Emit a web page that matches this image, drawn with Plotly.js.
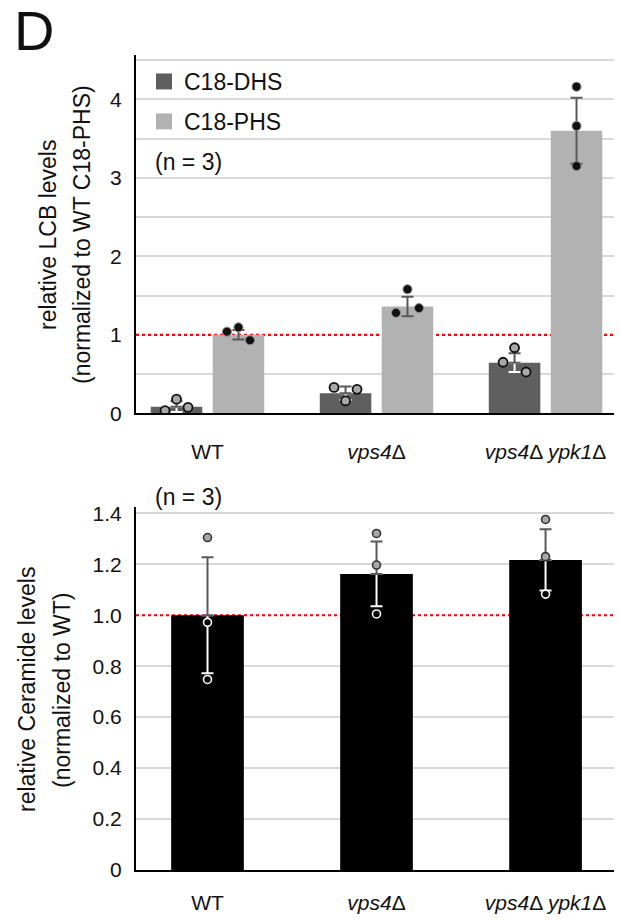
<!DOCTYPE html>
<html>
<head>
<meta charset="utf-8">
<script src="https://cdn.plot.ly/plotly-3.0.1.min.js"></script>
<style>html,body{margin:0;padding:0;background:#fff;}#chart{width:620px;height:920px;}</style>
</head>
<body>
<div id="chart"></div>
<script>
// ---------- data ----------
const categories = ['WT', 'vps4Δ', 'vps4Δ ypk1Δ'];
const tickLabels = ['WT', '<i>vps4</i>Δ', '<i>vps4</i>Δ <i>ypk1</i>Δ'];

const dhsMean = [0.085, 0.255, 0.645];
const dhsSD   = [0.07, 0.085, 0.12];
const dhsReps = [[0.033, 0.18, 0.076], [0.33, 0.157, 0.305], [0.65, 0.835, 0.526]];

const phsMean = [1.0, 1.36, 3.6];
const phsSD   = [0.06, 0.125, 0.42];
const phsReps = [[1.04, 1.095, 0.93], [1.28, 1.58, 1.34], [4.16, 3.66, 3.15]];

const cerMean = [1.0, 1.162, 1.217];
const cerSD   = [0.228, 0.127, 0.12];
const cerReps = [[1.305, 0.972, 0.748], [1.321, 1.197, 1.005], [1.376, 1.23, 1.083]];

const lcbTickVals = [0, 1, 2, 3, 4];
const lcbGridVals = [0.5, 1, 1.5, 2, 2.5, 3, 3.5, 4, 4.5];
const cerTickVals = [0, 0.2, 0.4, 0.6, 0.8, 1.0, 1.2, 1.4];
const cerTickText = ['0', '0.2', '0.4', '0.6', '0.8', '1.0', '1.2', '1.4'];
const refLevel = 1;

// ---------- geometry / style ----------
const W = 620, H = 920;
const FONT = 'Liberation Sans, Arial, sans-serif';
const xDom = [136 / W, 614 / W];
const xRange = [-0.423, 2.405];
const topDom = [1 - 413.3 / H, 1 - 55 / H];
const botDom = [1 - 870 / H, 1 - 506.7 / H];
const topRange = [0, 4.564];
const botRange = [0, 1.426];
const bargap = 0.267, bargroupgap = 0.168;
const slot = (1 - bargap) / 2;
const DARK = '#5f5f5f', LIGHT = '#b2b2b2', ERR = '#595959', GRID = '#d9d9d9';
const idx = categories.map((_, i) => i);

const pxPerUnit = (dom, rng) => (dom[1] - dom[0]) * H / (rng[1] - rng[0]);
const pxPerX = (xDom[1] - xDom[0]) * W / (xRange[1] - xRange[0]);
const spreadPx = 11.5;

function pointXs(reps, center, ppu) {
  const xs = [];
  reps.forEach((vals, i) => {
    let minGap = Infinity;
    for (let a = 0; a < vals.length; a++)
      for (let b = a + 1; b < vals.length; b++)
        minGap = Math.min(minGap, Math.abs(vals[a] - vals[b]) * ppu);
    const spread = minGap < 16;
    vals.forEach((v, k) => {
      xs.push(i + center + (spread ? (k - (vals.length - 1) / 2) * spreadPx / pxPerX : 0));
    });
  });
  return xs;
}
const flat = a => a.reduce((s, r) => s.concat(r), []);
// grid lines everywhere except where the red reference line runs
const gridExceptRef = vals => vals.filter(v => v > 0 && Math.abs(v - refLevel) > 1e-9);

const topPPU = pxPerUnit(topDom, topRange);
const botPPU = pxPerUnit(botDom, botRange);

const zeros = idx.map(() => 0);
const traces = [];

// top bars
traces.push({type: 'bar', x: idx, y: dhsMean, name: 'C18-DHS', marker: {color: DARK},
  offsetgroup: 'a', xaxis: 'x', yaxis: 'y', showlegend: false, hoverinfo: 'skip'});
traces.push({type: 'bar', x: idx, y: phsMean, name: 'C18-PHS', marker: {color: LIGHT},
  offsetgroup: 'b', xaxis: 'x', yaxis: 'y', showlegend: false, hoverinfo: 'skip'});

// top error bars
const dhsX = idx.map(i => i - slot / 2), phsX = idx.map(i => i + slot / 2);
traces.push({type: 'scatter', mode: 'markers', x: dhsX, y: dhsMean, marker: {size: 1, opacity: 0},
  error_y: {type: 'data', symmetric: false, array: zeros, arrayminus: dhsSD, color: '#ffffff', thickness: 2, width: 6},
  xaxis: 'x', yaxis: 'y', showlegend: false, hoverinfo: 'skip'});
traces.push({type: 'scatter', mode: 'markers', x: dhsX, y: dhsMean, marker: {size: 1, opacity: 0},
  error_y: {type: 'data', symmetric: false, array: dhsSD, arrayminus: zeros, color: ERR, thickness: 2, width: 6},
  xaxis: 'x', yaxis: 'y', showlegend: false, hoverinfo: 'skip'});
traces.push({type: 'scatter', mode: 'markers', x: phsX, y: phsMean, marker: {size: 1, opacity: 0},
  error_y: {type: 'data', array: phsSD, color: ERR, thickness: 2, width: 6},
  xaxis: 'x', yaxis: 'y', showlegend: false, hoverinfo: 'skip'});

// top points
traces.push({type: 'scatter', mode: 'markers', x: pointXs(dhsReps, -slot / 2, topPPU), y: flat(dhsReps),
  marker: {size: 9, color: '#a8a8a8', line: {color: '#111', width: 1.8}},
  xaxis: 'x', yaxis: 'y', showlegend: false, hoverinfo: 'skip'});
traces.push({type: 'scatter', mode: 'markers', x: pointXs(phsReps, slot / 2, topPPU), y: flat(phsReps),
  marker: {size: 9, color: '#111', line: {color: '#888', width: 1}},
  xaxis: 'x', yaxis: 'y', showlegend: false, hoverinfo: 'skip'});

// legend entries
traces.push({type: 'scatter', mode: 'markers', x: [null], y: [null], name: 'C18-DHS', legendgroup: 'g1',
  marker: {symbol: 'square', size: 16, color: DARK}, xaxis: 'x', yaxis: 'y'});
traces.push({type: 'scatter', mode: 'markers', x: [null], y: [null], name: 'C18-PHS', legendgroup: 'g2',
  marker: {symbol: 'square', size: 16, color: LIGHT}, xaxis: 'x', yaxis: 'y'});

// bottom bars
traces.push({type: 'bar', x: idx, y: cerMean, width: 0.43, marker: {color: '#000'},
  xaxis: 'x2', yaxis: 'y2', showlegend: false, hoverinfo: 'skip'});
traces.push({type: 'scatter', mode: 'markers', x: idx, y: cerMean, marker: {size: 1, opacity: 0},
  error_y: {type: 'data', symmetric: false, array: zeros, arrayminus: cerSD, color: '#ffffff', thickness: 2, width: 6},
  xaxis: 'x2', yaxis: 'y2', showlegend: false, hoverinfo: 'skip'});
traces.push({type: 'scatter', mode: 'markers', x: idx, y: cerMean, marker: {size: 1, opacity: 0},
  error_y: {type: 'data', symmetric: false, array: cerSD, arrayminus: zeros, color: ERR, thickness: 2, width: 6},
  xaxis: 'x2', yaxis: 'y2', showlegend: false, hoverinfo: 'skip'});
const cerFlat = flat(cerReps);
const cerAbove = flat(cerReps.map((r, i) => r.map(v => v > cerMean[i])));
traces.push({type: 'scatter', mode: 'markers', x: pointXs(cerReps, 0, botPPU), y: cerFlat,
  marker: {size: 8, color: cerAbove.map(a => a ? '#a8a8a8' : '#000'),
    line: {color: cerAbove.map(a => a ? '#333' : '#fff'), width: 1.6}},
  xaxis: 'x2', yaxis: 'y2', showlegend: false, hoverinfo: 'skip'});

const xCommon = {
  range: xRange, tickmode: 'array', tickvals: idx, ticktext: tickLabels,
  showline: true, linecolor: '#000', linewidth: 2, showgrid: false, zeroline: false,
  ticks: 'outside', tickcolor: 'rgba(0,0,0,0)', tickfont: {size: 21, color: '#111', family: FONT}, fixedrange: true
};
const yCommon = {
  showline: true, linecolor: '#000', linewidth: 2, zeroline: false,
  showgrid: false,
  ticks: 'outside', ticklen: 8, tickcolor: 'rgba(0,0,0,0)',
  tickfont: {size: 21, color: '#111', family: FONT}, fixedrange: true
};

const layout = {
  width: W, height: H, autosize: false,
  margin: {l: 0, r: 0, t: 0, b: 0},
  paper_bgcolor: '#fff', plot_bgcolor: '#fff',
  font: {family: FONT, color: '#111'},
  barmode: 'group', bargap: bargap, bargroupgap: bargroupgap,
  showlegend: true,
  legend: {x: 144 / W, xanchor: 'left', y: 1 - 60 / H, yanchor: 'top', bgcolor: 'rgba(0,0,0,0)',
    font: {size: 23, family: FONT, color: '#111'}, traceorder: 'grouped', tracegroupgap: 7},
  xaxis: Object.assign({}, xCommon, {domain: xDom, anchor: 'y', ticklen: 18}),
  yaxis: Object.assign({}, yCommon, {domain: topDom, anchor: 'x', range: topRange,
    tickmode: 'array', tickvals: lcbTickVals,
    minor: {tickmode: 'array', tickvals: gridExceptRef(lcbGridVals), showgrid: true, gridcolor: GRID, gridwidth: 2, ticks: ''}}),
  xaxis2: Object.assign({}, xCommon, {domain: xDom, anchor: 'y2', ticklen: 13}),
  yaxis2: Object.assign({}, yCommon, {domain: botDom, anchor: 'x2', range: botRange,
    tickmode: 'array', tickvals: cerTickVals, ticktext: cerTickText,
    minor: {tickmode: 'array', tickvals: gridExceptRef(cerTickVals), showgrid: true, gridcolor: GRID, gridwidth: 2, ticks: ''}}),
  shapes: [
    {type: 'line', xref: 'x domain', yref: 'y', x0: 0, x1: 1, y0: refLevel, y1: refLevel,
      line: {color: '#ff0000', width: 2.2, dash: 'dot'}, layer: 'below'},
    {type: 'line', xref: 'x2 domain', yref: 'y2', x0: 0, x1: 1, y0: refLevel, y1: refLevel,
      line: {color: '#ff0000', width: 2.2, dash: 'dot'}, layer: 'below'}
  ],
  annotations: [
    {text: 'D', xref: 'paper', yref: 'paper', x: 12 / W, y: 1 - 30 / H, xanchor: 'left', yanchor: 'middle',
      showarrow: false, font: {size: 56, family: FONT, color: '#111'}},
    {text: '(n = 3)', xref: 'paper', yref: 'paper', x: 153 / W, y: 1 - 162 / H, xanchor: 'left', yanchor: 'middle',
      showarrow: false, font: {size: 23, family: FONT, color: '#111'}},
    {text: '(n = 3)', xref: 'paper', yref: 'paper', x: 153 / W, y: 1 - 497 / H, xanchor: 'left', yanchor: 'middle',
      showarrow: false, font: {size: 23, family: FONT, color: '#111'}},
    {text: 'relative LCB levels', xref: 'paper', yref: 'paper', x: 48 / W, y: 1 - 235 / H, xanchor: 'center', yanchor: 'middle',
      textangle: -90, showarrow: false, font: {size: 23, family: FONT, color: '#111'}},
    {text: '(normalized to WT C18-PHS)', xref: 'paper', yref: 'paper', x: 82 / W, y: 1 - 235 / H, xanchor: 'center', yanchor: 'middle',
      textangle: -90, showarrow: false, font: {size: 23, family: FONT, color: '#111'}},
    {text: 'relative Ceramide levels', xref: 'paper', yref: 'paper', x: 27 / W, y: 1 - 690 / H, xanchor: 'center', yanchor: 'middle',
      textangle: -90, showarrow: false, font: {size: 23, family: FONT, color: '#111'}},
    {text: '(normalized to WT)', xref: 'paper', yref: 'paper', x: 62 / W, y: 1 - 690 / H, xanchor: 'center', yanchor: 'middle',
      textangle: -90, showarrow: false, font: {size: 23, family: FONT, color: '#111'}}
  ]
};

Plotly.newPlot('chart', traces, layout, {staticPlot: true, displayModeBar: false});
</script>
</body>
</html>
